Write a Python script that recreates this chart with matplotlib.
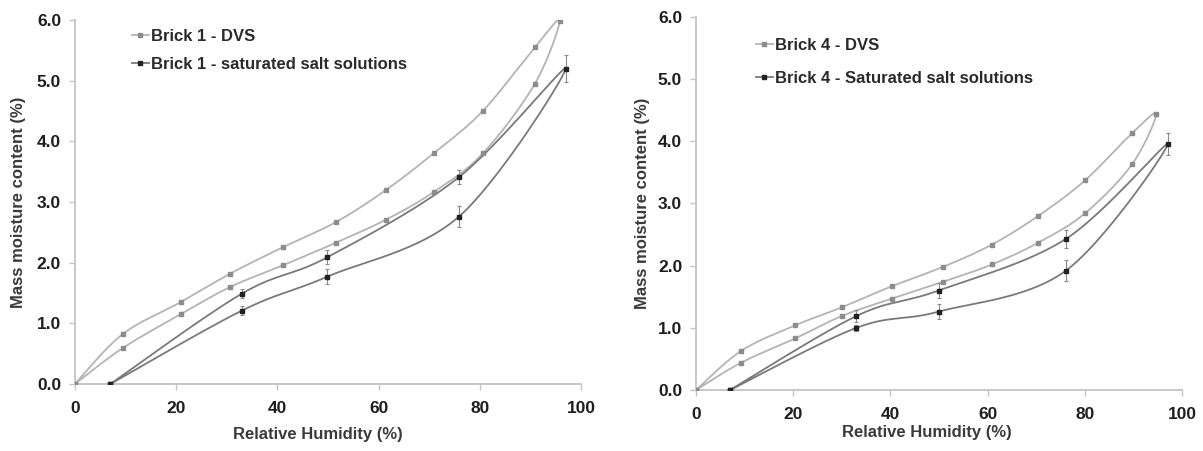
import numpy as np
import matplotlib
matplotlib.use("Agg")
import matplotlib.pyplot as plt

plt.rcParams['font.family'] = ['Liberation Sans', 'DejaVu Sans']

# ---------------- data: Brick 1 ----------------
b1_dvs_rh = [0, 9.4, 20.9, 30.7, 41.2, 51.6, 61.5, 71.0, 80.6, 90.9, 95.8,
             90.9, 80.6, 71.0, 61.5, 51.6, 41.2, 30.7, 20.9, 9.4, 0]
b1_dvs_mc = [0, 0.59, 1.15, 1.60, 1.96, 2.33, 2.71, 3.17, 3.80, 4.95, 5.99,
             5.55, 4.50, 3.81, 3.20, 2.67, 2.26, 1.82, 1.35, 0.82, 0]
b1_salt_rh = [7.0, 33.0, 49.9, 75.9, 97.0, 75.9, 49.9, 33.0, 7.0]
b1_salt_mc = [0, 1.21, 1.77, 2.76, 5.20, 3.41, 2.09, 1.49, 0]
b1_salt_err = [0, 0.08, 0.12, 0.18, 0.22, 0.12, 0.12, 0.08, 0]

# ---------------- data: Brick 4 ----------------
b4_dvs_rh = [0, 9.3, 20.4, 30.0, 40.3, 50.8, 60.9, 70.4, 80.0, 89.7, 94.7,
             89.7, 80.0, 70.4, 60.9, 50.8, 40.3, 30.0, 20.4, 9.3, 0]
b4_dvs_mc = [0, 0.44, 0.83, 1.19, 1.47, 1.74, 2.02, 2.37, 2.84, 3.63, 4.44,
             4.13, 3.37, 2.80, 2.34, 1.98, 1.67, 1.33, 1.04, 0.63, 0]
b4_salt_rh = [7.0, 33.0, 49.9, 76.1, 97.1, 76.1, 49.9, 33.0, 7.0]
b4_salt_mc = [0, 1.00, 1.26, 1.92, 3.96, 2.43, 1.60, 1.19, 0]
b4_salt_err = [0, 0.05, 0.12, 0.17, 0.18, 0.15, 0.12, 0.10, 0]

x_ticks = [0, 20, 40, 60, 80, 100]
y_ticks = [0.0, 1.0, 2.0, 3.0, 4.0, 5.0, 6.0]

DVS_COLOR = '#b4b4b4'
SALT_COLOR = '#7a7a7a'
SPINE = '#c4c4c4'


def smooth(xs, ys, n=30):
    """Excel-like smoothed line (Catmull-Rom via cubic Bezier)."""
    P = np.column_stack([xs, ys]).astype(float)
    m = len(P)
    out = []
    for i in range(m - 1):
        p0 = P[i - 1] if i > 0 else P[i]
        p1 = P[i]
        p2 = P[i + 1]
        p3 = P[i + 2] if i + 2 < m else P[i + 1]
        c1 = p1 + (p2 - p0) / 6.0
        c2 = p2 - (p3 - p1) / 6.0
        t = np.linspace(0, 1, n)[:, None]
        seg = ((1 - t) ** 3) * p1 + 3 * ((1 - t) ** 2) * t * c1 + 3 * (1 - t) * t ** 2 * c2 + t ** 3 * p2
        out.append(seg if i == 0 else seg[1:])
    S = np.vstack(out)
    return S[:, 0], S[:, 1]


def panel(ax, dvs_rh, dvs_mc, salt_rh, salt_mc, salt_err, lab_dvs, lab_salt,
          leg_anchor, leg_spacing):
    sx, sy = smooth(dvs_rh, dvs_mc)
    ax.plot(sx, sy, color=DVS_COLOR, lw=1.3, zorder=2)
    ax.plot(dvs_rh, dvs_mc, ls='none', marker='s', ms=3.5, color='#8c8c8c',
            mec='#8c8c8c', zorder=3)
    tx, ty = smooth(salt_rh, salt_mc)
    ax.plot(tx, ty, color=SALT_COLOR, lw=1.3, zorder=2)
    ax.errorbar(salt_rh, salt_mc, yerr=salt_err, fmt='none', ecolor='#8a8a8a',
                elinewidth=0.8, capsize=1.5, capthick=0.8, zorder=3)
    ax.plot(salt_rh, salt_mc, ls='none', marker='s', ms=3.5, color='#222222',
            zorder=4)

    # legend proxies
    h1, = ax.plot([], [], color=DVS_COLOR, lw=1.3, marker='s', ms=3.5,
                  mfc='#8c8c8c', mec='#8c8c8c')
    h2, = ax.plot([], [], color=SALT_COLOR, lw=1.3, marker='s', ms=3.5,
                  mfc='#222222', mec='#222222')
    leg = ax.legend([h1, h2], [lab_dvs, lab_salt], loc='upper left',
                    bbox_to_anchor=leg_anchor, frameon=False, handlelength=1.0,
                    handletextpad=0.15, labelspacing=leg_spacing, borderaxespad=0,
                    borderpad=0, prop={'size': 12, 'weight': 'bold'})
    for t in leg.get_texts():
        t.set_color('#2a2a2a')

    ax.set_xlim(0, 100)
    ax.set_ylim(0, 6.0)
    ax.set_xticks(x_ticks)
    ax.set_yticks(y_ticks)
    ax.set_yticklabels([f'{v:.1f}' for v in y_ticks])
    for s in ['top', 'right']:
        ax.spines[s].set_visible(False)
    for s in ['left', 'bottom']:
        ax.spines[s].set_color(SPINE)
        ax.spines[s].set_linewidth(1.3)
    ax.tick_params(axis='both', direction='out', length=4, width=1.0,
                   color=SPINE, labelsize=12.5, labelcolor='#1e1e1e', pad=6)
    ax.tick_params(axis='x', pad=8)
    for lab in ax.get_xticklabels() + ax.get_yticklabels():
        lab.set_fontweight('bold')
    ax.set_xlabel('Relative Humidity (%)', fontsize=12, fontweight='bold',
                  color='#3a3a3a')
    ax.set_ylabel('Mass moisture content (%)', fontsize=12, fontweight='bold',
                  color='#3a3a3a')


fig = plt.figure(figsize=(12.03, 4.51), dpi=100)
ax1 = fig.add_axes([0.0623, 0.1486, 0.4206, 0.807])
ax2 = fig.add_axes([0.5786, 0.1353, 0.404, 0.827])

panel(ax1, b1_dvs_rh, b1_dvs_mc, b1_salt_rh, b1_salt_mc, b1_salt_err,
      'Brick 1 - DVS', 'Brick 1 - saturated salt solutions', (0.113, 0.975), 0.75)
panel(ax2, b4_dvs_rh, b4_dvs_mc, b4_salt_rh, b4_salt_mc, b4_salt_err,
      'Brick 4 - DVS', 'Brick 4 - Saturated salt solutions', (0.123, 0.945), 1.1)

ax1.xaxis.set_label_coords(0.48, -0.118)
ax1.yaxis.set_label_coords(-0.097, 0.5)
ax2.xaxis.set_label_coords(0.475, -0.094)
ax2.yaxis.set_label_coords(-0.095, 0.5)

fig.savefig('out.png', dpi=100, facecolor='white')
